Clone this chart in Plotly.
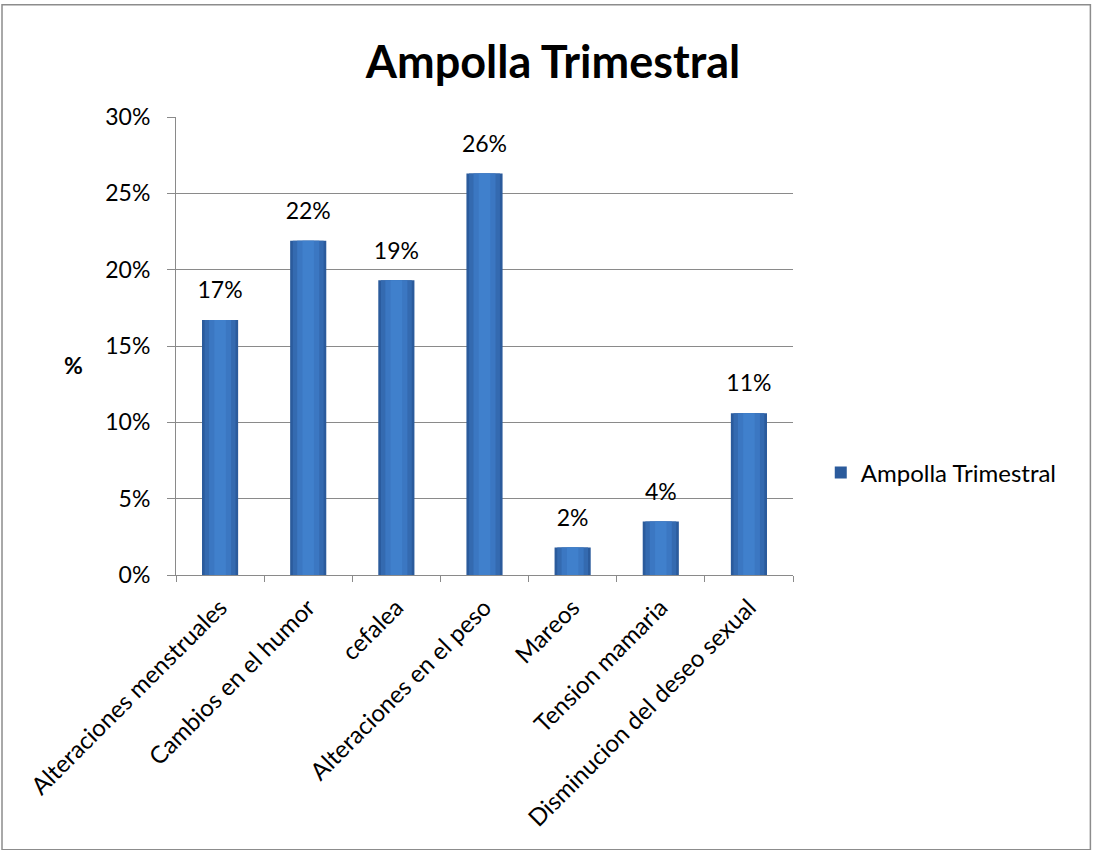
import plotly.graph_objects as go

categories = [
    "Alteraciones menstruales",
    "Cambios en el humor",
    "cefalea",
    "Alteraciones en el peso",
    "Mareos",
    "Tension mamaria",
    "Disminucion del deseo sexual",
]
values = [0.167, 0.219, 0.193, 0.263, 0.018, 0.035, 0.106]
series_name = "Ampolla Trimestral"
y_ticks = [0, 0.05, 0.10, 0.15, 0.20, 0.25, 0.30]

FONT = "Lato, Open Sans, sans-serif"
GRID = "#8a8a8a"

fig = go.Figure()

# shaded column: dark outer body, lighter inner layers give a rounded look
fig.add_trace(go.Bar(
    x=categories, y=values, name=series_name, width=0.41,
    marker=dict(color="#2b5b9c", line=dict(width=0)),
    showlegend=True,
))
fig.add_trace(go.Bar(
    x=categories, y=values, width=0.35, showlegend=False,
    marker=dict(color="#346ab0", line=dict(width=0)), hoverinfo="skip",
))
fig.add_trace(go.Bar(
    x=categories, y=values, width=0.25, showlegend=False,
    marker=dict(color="#3b77c2", line=dict(width=0)), hoverinfo="skip",
))
fig.add_trace(go.Bar(
    x=categories, y=values, width=0.13, showlegend=False,
    marker=dict(color="#4080cc", line=dict(width=0)), hoverinfo="skip",
))

# value labels above each column
fig.add_trace(go.Scatter(
    x=categories, y=values, mode="markers+text",
    marker=dict(size=24, color="rgba(0,0,0,0)"),
    text=[f"{round(v * 100)}%" for v in values], textposition="top center",
    textfont=dict(family=FONT, size=23, color="#000000"),
    cliponaxis=False, showlegend=False, hoverinfo="skip",
))

fig.update_layout(
    barmode="overlay",
    width=1093, height=850,
    margin=dict(l=176, r=300, t=117, b=275),
    paper_bgcolor="white", plot_bgcolor="white",
    font=dict(family=FONT, size=23, color="#000000"),
    title=dict(
        text="<b>Ampolla Trimestral</b>",
        x=0.506, xanchor="center", y=0.927, yanchor="middle",
        font=dict(family=FONT, size=45, color="#000000"),
    ),
    legend=dict(
        x=1.045, y=0.223, xanchor="left", yanchor="middle",
        font=dict(family=FONT, size=24), itemwidth=30,
        bgcolor="rgba(0,0,0,0)",
    ),
    shapes=[dict(
        type="rect", xref="paper", yref="paper",
        x0=-0.282, x1=1.482, y0=-0.6, y1=1.245,
        line=dict(color="#8c8c8c", width=1.5),
    )],
    annotations=[dict(
        text="<b>%</b>", xref="paper", yref="paper",
        x=-0.185, y=0.459, showarrow=False,
        font=dict(family=FONT, size=23),
    )],
)

fig.update_yaxes(
    range=[0, 0.30], tickvals=y_ticks, tickformat=".0%",
    showgrid=True, gridcolor=GRID, gridwidth=1,
    showline=True, linecolor=GRID, linewidth=1,
    ticks="outside", ticklen=8, tickcolor=GRID, ticklabelstandoff=12,
    tickfont=dict(family=FONT, size=23), zeroline=False,
)
fig.update_xaxes(
    range=[-0.5, len(categories) - 0.5],
    tickangle=-45, showline=True, linecolor=GRID, linewidth=1,
    ticks="outside", ticklen=6, tickcolor=GRID, tickson="boundaries",
    ticklabelstandoff=8,
    tickfont=dict(family=FONT, size=24),
)

fig.write_html("out.html")
